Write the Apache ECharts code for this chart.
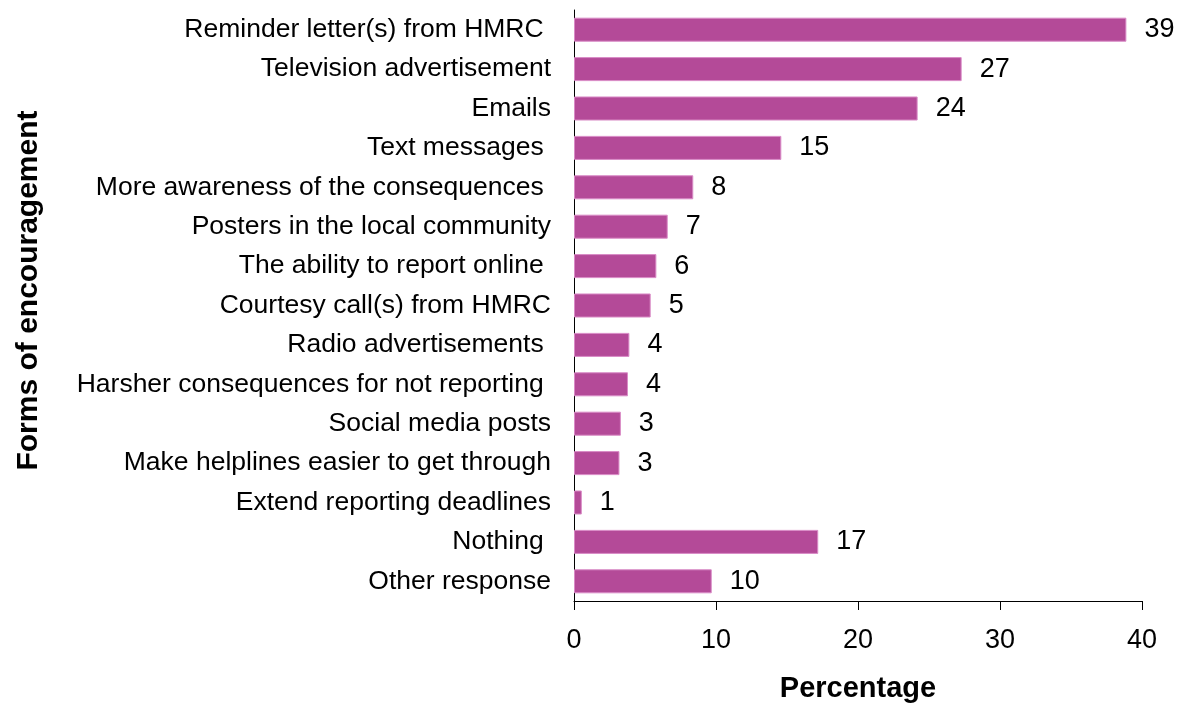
<!DOCTYPE html>
<html>
<head>
<meta charset="utf-8">
<script src="https://cdn.jsdelivr.net/npm/echarts@6/dist/echarts.min.js"></script>
<style>
  html, body { margin: 0; padding: 0; background: #fff; }
  #chart { width: 1185px; height: 706px; }
</style>
</head>
<body>
<div id="chart"></div>
<script>
// Forms of encouragement, top to bottom
const categories = [
  'Reminder letter(s) from HMRC ',
  'Television advertisement',
  'Emails',
  'Text messages ',
  'More awareness of the consequences ',
  'Posters in the local community',
  'The ability to report online ',
  'Courtesy call(s) from HMRC',
  'Radio advertisements ',
  'Harsher consequences for not reporting ',
  'Social media posts',
  'Make helplines easier to get through',
  'Extend reporting deadlines',
  'Nothing ',
  'Other response'
];
// Percentage of respondents
const percentages = [38.9, 27.3, 24.2, 14.6, 8.4, 6.6, 5.8, 5.4, 3.9, 3.8, 3.3, 3.2, 0.55, 17.2, 9.7];
const xTicks = { min: 0, max: 40, interval: 10 };

const FONT = '"Liberation Sans", Arial, sans-serif';
const chart = echarts.init(document.getElementById('chart'), null, { renderer: 'canvas' });

chart.setOption({
  animation: false,
  backgroundColor: '#ffffff',
  grid: {
    left: 574, right: 43, top: 10, bottom: 105,
    containLabel: false,
    outerBoundsMode: 'none'
  },
  xAxis: {
    type: 'value',
    min: xTicks.min, max: xTicks.max, interval: xTicks.interval,
    name: 'Percentage',
    nameLocation: 'middle',
    nameGap: 73,
    nameTextStyle: { fontFamily: FONT, fontSize: 29, fontWeight: 'bold', color: '#000' },
    axisLine: { show: true, lineStyle: { color: '#000', width: 1 } },
    axisTick: { show: true, length: 9, lineStyle: { color: '#000' } },
    axisLabel: { fontFamily: FONT, fontSize: 27, color: '#000', margin: 26 },
    splitLine: { show: false }
  },
  yAxis: {
    type: 'category',
    data: categories,
    inverse: true,
    name: 'Forms of encouragement',
    nameLocation: 'middle',
    nameRotate: 90,
    nameGap: 530,
    nameTextStyle: { fontFamily: FONT, fontSize: 30, fontWeight: 'bold', color: '#000', padding: [0, 0, 0, 30] },
    axisLine: { show: true, lineStyle: { color: '#000', width: 1 } },
    axisTick: { show: false },
    axisLabel: { fontFamily: FONT, fontSize: 26.5, color: '#000', margin: 23 }
  },
  series: [{
    type: 'bar',
    data: percentages,
    barWidth: '61%',
    itemStyle: { color: '#b44a98', borderColor: '#d98bc6', borderWidth: 1 },
    label: {
      show: true,
      position: 'right',
      distance: 18,
      fontFamily: FONT,
      fontSize: 27,
      color: '#000',
      formatter: p => Math.round(p.value)
    }
  }]
});
</script>
</body>
</html>
